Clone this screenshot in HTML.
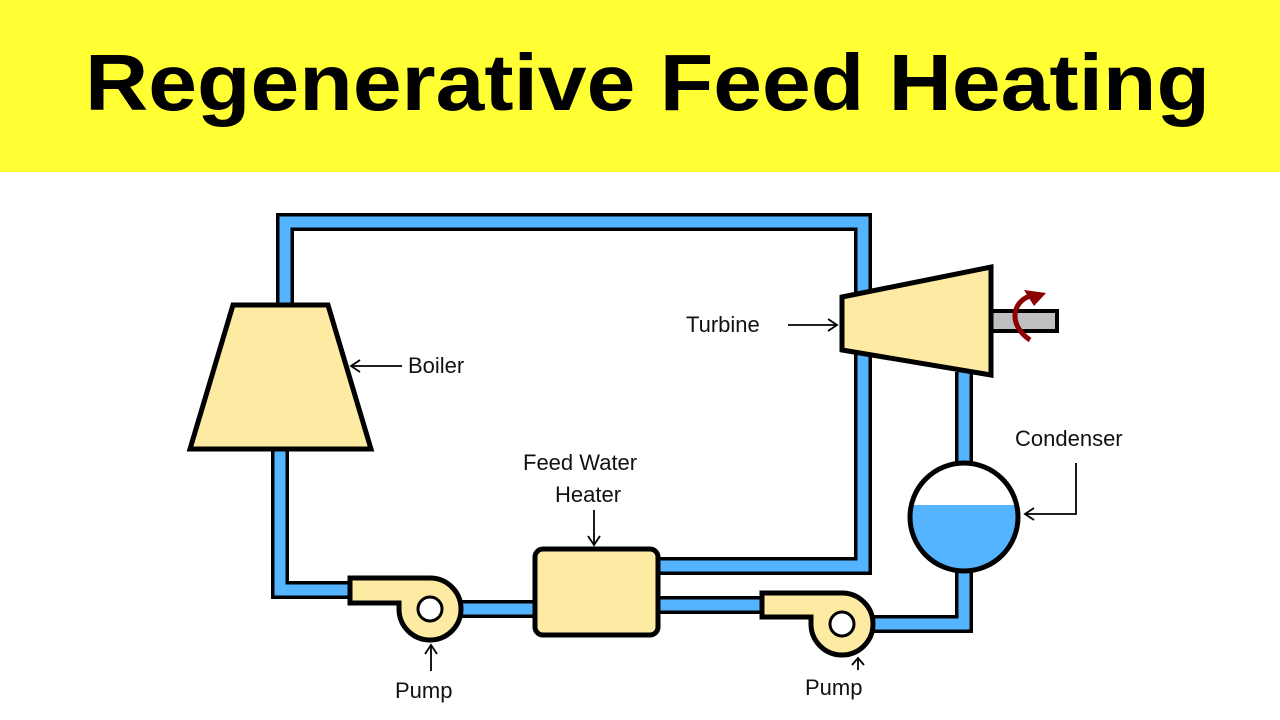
<!DOCTYPE html>
<html><head><meta charset="utf-8"><style>
html,body{margin:0;padding:0;background:#fff;}
svg{display:block}
</style></head><body>
<svg width="1280" height="720" xmlns="http://www.w3.org/2000/svg" font-family="Liberation Sans, sans-serif">
<rect x="0" y="0" width="1280" height="172" fill="#ffff33"/>
<text x="85" y="110" font-size="80" font-weight="bold" textLength="1125" lengthAdjust="spacingAndGlyphs" fill="#000">Regenerative Feed Heating</text>

<g fill="none" stroke-linejoin="miter" stroke-linecap="butt">
<!-- outlines -->
<g stroke="#000" stroke-width="18">
<polyline points="285,305 285,222 863,222 863,566 658,566"/>
<polyline points="280,449 280,590 352,590"/>
<line x1="430" y1="609" x2="535" y2="609"/>
<line x1="658" y1="605" x2="762" y2="605"/>
<polyline points="842,624 964,624 964,566"/>
<line x1="964" y1="372" x2="964" y2="468"/>
</g>
<g stroke="#55b4ff" stroke-width="11">
<polyline points="285,310 285,222 863,222 863,566 655,566"/>
<polyline points="280,445 280,590 356,590"/>
<line x1="430" y1="609" x2="538" y2="609"/>
<line x1="655" y1="605" x2="765" y2="605"/>
<polyline points="842,624 964,624 964,560"/>
<line x1="964" y1="370" x2="964" y2="470"/>
</g>
</g>

<!-- boiler -->
<polygon points="233,305 328,305 371,449 190,449" fill="#fdeba3" stroke="#000" stroke-width="5"/>
<!-- pump1 -->
<path d="M350,578 L430,578 A31,31 0 1 1 399,609 L399,603 L350,603 Z" fill="#fdeba3" stroke="#000" stroke-width="5"/>
<circle cx="430" cy="609" r="12" fill="#fff" stroke="#000" stroke-width="3"/>
<!-- heater -->
<rect x="535" y="549" width="123" height="86" rx="8" fill="#fdeba3" stroke="#000" stroke-width="5"/>
<!-- pump2 -->
<path d="M762,593 L842,593 A31,31 0 1 1 811,624 L811,617 L762,617 Z" fill="#fdeba3" stroke="#000" stroke-width="5"/>
<circle cx="842" cy="624" r="12" fill="#fff" stroke="#000" stroke-width="3"/>
<!-- turbine -->
<rect x="991" y="311" width="66" height="20" fill="#c0c0c0" stroke="#000" stroke-width="4"/>
<polygon points="842,297 991,267 991,375 842,350" fill="#fdeba3" stroke="#000" stroke-width="5"/>
<path d="M1030,340 C1008,325 1012,302 1030,296" fill="none" stroke="#8b0000" stroke-width="5"/>
<polygon points="1024,290 1046,293 1034,306" fill="#8b0000"/>
<!-- condenser -->
<clipPath id="c"><circle cx="964" cy="517" r="54"/></clipPath>
<circle cx="964" cy="517" r="54" fill="#fff"/>
<rect x="900" y="505" width="130" height="80" fill="#55b4ff" clip-path="url(#c)"/>
<circle cx="964" cy="517" r="54" fill="none" stroke="#000" stroke-width="5"/>

<!-- labels -->
<g font-size="22" fill="#111">
<text x="408" y="373">Boiler</text>
<text x="686" y="332">Turbine</text>
<text x="1015" y="446">Condenser</text>
<text x="523" y="470">Feed Water</text>
<text x="555" y="502">Heater</text>
<text x="395" y="698">Pump</text>
<text x="805" y="695">Pump</text>
</g>
<g stroke="#000" stroke-width="1.8" fill="none">
<line x1="352" y1="366" x2="402" y2="366"/><polyline points="360,360 351,366 360,372"/>
<line x1="788" y1="325" x2="836" y2="325"/><polyline points="828,319 837,325 828,331"/>
<polyline points="1076,463 1076,514 1026,514"/><polyline points="1034,508 1025,514 1034,520"/>
<line x1="594" y1="510" x2="594" y2="544"/><polyline points="588,536 594,545 600,536"/>
<line x1="431" y1="646" x2="431" y2="671"/><polyline points="425,654 431,645 437,654"/>
<line x1="858" y1="659" x2="858" y2="670"/><polyline points="852,665 858,658 864,665"/>
</g>
</svg>
</body></html>
